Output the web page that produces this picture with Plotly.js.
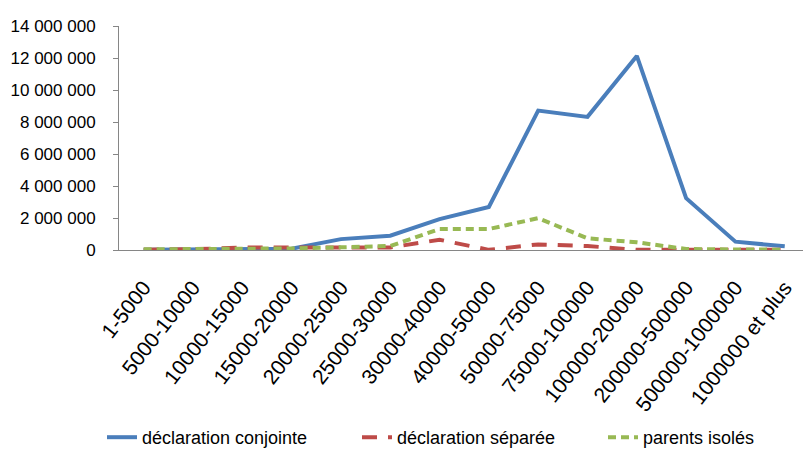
<!DOCTYPE html>
<html>
<head>
<meta charset="utf-8">
<script src="https://cdn.plot.ly/plotly-3.0.1.min.js"></script>
<style>html,body{margin:0;padding:0;background:#fff;}#chart{width:803px;height:456px;}</style>
</head>
<body>
<div id="chart"></div>
<script>
var categories = ["1-5000","5000-10000","10000-15000","15000-20000","20000-25000","25000-30000","30000-40000","40000-50000","50000-75000","75000-100000","100000-200000","200000-500000","500000-1000000","1000000 et plus"];
var conjointe = [10000, 20000, 30000, 80000, 680000, 890000, 1930000, 2690000, 8710000, 8320000, 12130000, 3240000, 520000, 230000];
var separee = [20000, 50000, 150000, 150000, 200000, 160000, 640000, 10000, 350000, 250000, 10000, 10000, 10000, 10000];
var isoles = [40000, 50000, 60000, 100000, 170000, 250000, 1310000, 1310000, 1990000, 730000, 480000, 60000, 30000, 20000];
var yTickVals = [0, 2000000, 4000000, 6000000, 8000000, 10000000, 12000000, 14000000];
var yTickText = ["0", "2 000 000", "4 000 000", "6 000 000", "8 000 000", "10 000 000", "12 000 000", "14 000 000"];
var seriesNames = ["déclaration conjointe", "déclaration séparée", "parents isolés"];

var FONT = "'Liberation Sans', Arial, sans-serif";
var XRANGE = [-0.5, 13.37];

var traces = [
  {x: categories, y: conjointe, name: seriesNames[0], type: 'scatter', mode: 'lines',
   line: {color: '#4a7ebb', width: 4}, legend: 'legend'},
  {x: categories, y: separee, name: seriesNames[1], type: 'scatter', mode: 'lines',
   line: {color: '#be4b48', width: 4, dash: '15px,11px'}, legend: 'legend2'},
  {x: categories, y: isoles, name: seriesNames[2], type: 'scatter', mode: 'lines',
   line: {color: '#98b954', width: 4, dash: '8px,5px'}, legend: 'legend3'}
];

function leg(xpx) {
  return {orientation: 'h', x: (xpx - 119) / 684, xanchor: 'left', y: -(442 - 252) / 226, yanchor: 'middle',
          font: {family: FONT, size: 18, color: '#000'}, bgcolor: 'rgba(0,0,0,0)', borderwidth: 0};
}

var layout = {
  width: 803, height: 456,
  margin: {l: 119, r: 0, t: 26, b: 204, pad: 0},
  paper_bgcolor: '#ffffff', plot_bgcolor: '#ffffff',
  font: {family: FONT, size: 17, color: '#000000'},
  showlegend: true,
  legend: leg(102),
  legend2: leg(357),
  legend3: leg(603),
  xaxis: {
    type: 'category', range: XRANGE, fixedrange: true, automargin: false,
    showline: true, linecolor: '#868686', linewidth: 1,
    ticks: 'outside', ticklen: 16, tickcolor: 'rgba(0,0,0,0)',
    showgrid: false, zeroline: false, tickangle: -52,
    tickfont: {family: FONT, size: 21, color: '#000'}
  },
  xaxis2: {
    type: 'linear', overlaying: 'x', anchor: 'y', side: 'bottom', range: XRANGE, fixedrange: true,
    automargin: false, tickmode: 'linear', tick0: -0.5, dtick: 1,
    ticks: 'outside', ticklen: 6, tickcolor: '#868686', showticklabels: false,
    showline: false, showgrid: false, zeroline: false
  },
  yaxis: {
    range: [0, 14000000], fixedrange: true, automargin: false,
    tickvals: yTickVals, ticktext: yTickText,
    showline: true, linecolor: '#868686', linewidth: 1,
    ticks: 'outside', ticklen: 5, tickcolor: '#868686',
    showgrid: false, zeroline: false, ticklabelstandoff: 14,
    tickfont: {family: FONT, size: 17, color: '#000'}
  }
};

Plotly.newPlot('chart', traces, layout, {displayModeBar: false, staticPlot: true});
</script>
</body>
</html>
